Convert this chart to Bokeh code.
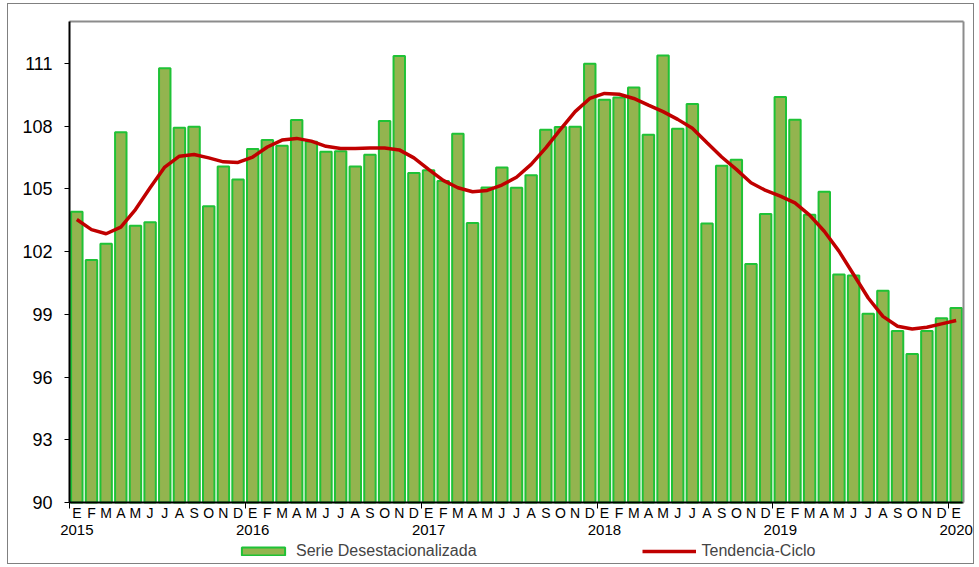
from bokeh.plotting import figure
from bokeh.models import Range1d, LinearAxis, FixedTicker, Legend, LegendItem, ColumnDataSource
from bokeh.embed import file_html
from bokeh.resources import INLINE

month_labels = ["E", "F", "M", "A", "M", "J", "J", "A", "S", "O", "N", "D"] * 5 + ["E"]
year_labels = ["2015", "2016", "2017", "2018", "2019", "2020"]
year_start_idx = [0, 12, 24, 36, 48, 60]
year_bounds = [-0.5, 11.5, 23.5, 35.5, 47.5, 59.5]
y_ticks = [90, 93, 96, 99, 102, 105, 108, 111]
y_min, y_max = 90, 113

serie = [103.90, 101.60, 102.37, 107.70, 103.23, 103.40, 110.76, 107.92, 107.97, 104.17, 106.07, 105.45,
         106.90, 107.33, 107.06, 108.29, 107.25, 106.77, 106.79, 106.07, 106.63, 108.24, 111.35, 105.75,
         105.89, 105.37, 107.63, 103.37, 105.06, 106.02, 105.05, 105.65, 107.82, 107.95, 107.97, 110.98,
         109.26, 109.37, 109.85, 107.59, 111.37, 107.87, 109.05, 103.34, 106.10, 106.39, 101.41, 103.79,
         109.39, 108.30, 103.76, 104.86, 100.90, 100.85, 99.02, 100.12, 98.20, 97.10, 98.20, 98.81,
         99.30]

tendencia = [103.53, 103.05, 102.85, 103.17, 104.01, 105.05, 106.04, 106.56, 106.64, 106.48, 106.29, 106.26,
             106.52, 107.00, 107.33, 107.41, 107.28, 107.03, 106.93, 106.93, 106.95, 106.95, 106.86, 106.48,
             105.93, 105.40, 105.05, 104.86, 104.92, 105.18, 105.55, 106.17, 106.96, 107.84, 108.69, 109.32,
             109.56, 109.52, 109.32, 109.00, 108.69, 108.32, 107.89, 107.20, 106.52, 105.93, 105.29, 104.92,
             104.65, 104.33, 103.74, 102.97, 102.02, 100.90, 99.78, 98.90, 98.43, 98.30, 98.38, 98.54,
             98.70]

idx = list(range(len(serie)))
src = ColumnDataSource(dict(x=idx, serie=serie, tend=tendencia))
x_lo, x_hi = -0.5, len(serie) - 0.5

# layout: the frame fills the whole canvas; the plot area occupies pixels
# 61..955 horizontally and 17..498 vertically of a 967x561 canvas
W, H = 967, 561
PA_L, PA_R, PA_T, PA_B = 61, 955, 17, 498
sx = (PA_R - PA_L) / (x_hi - x_lo)
sy = (PA_B - PA_T) / (y_max - y_min)
xr = Range1d(x_lo - PA_L / sx, x_hi + (W - PA_R) / sx)
yr = Range1d(y_min - (H - PA_B) / sy, y_max + PA_T / sy)

FONT = "Liberation Sans"

p = figure(width=W, height=H, x_range=xr, y_range=yr,
           x_axis_type=None, y_axis_type=None,
           output_backend="svg", toolbar_location=None,
           min_border_left=0, min_border_right=0, min_border_top=0, min_border_bottom=0)
p.grid.visible = False
p.outline_line_color = None
p.background_fill_color = "white"
p.border_fill_color = "white"
p.styles = {"border": "1px solid #808080", "margin-left": "7px", "margin-top": "3px"}

# y axis
yaxis = LinearAxis(ticker=FixedTicker(ticks=y_ticks), bounds=(y_min, y_max), fixed_location=x_lo)
yaxis.axis_line_color = "black"
yaxis.axis_line_width = 2
yaxis.major_tick_out = 5
yaxis.major_tick_in = 0
yaxis.minor_tick_out = 0
yaxis.minor_tick_in = 0
yaxis.major_label_text_font = FONT
yaxis.major_label_text_font_size = "18px"
yaxis.major_label_text_color = "black"
yaxis.major_label_standoff = 12
p.add_layout(yaxis, "left")

# plot-area border (top and right), gray
top_border = LinearAxis(ticker=FixedTicker(ticks=[]), fixed_location=y_max, bounds=(x_lo, x_hi))
top_border.axis_line_color = "#8c8c8c"
top_border.axis_line_width = 2
top_border.major_tick_line_color = None
top_border.minor_tick_line_color = None
top_border.major_label_text_font_size = "0px"
p.add_layout(top_border, "above")

right_border = LinearAxis(ticker=FixedTicker(ticks=[]), fixed_location=x_hi, bounds=(y_min, y_max))
right_border.axis_line_color = "#8c8c8c"
right_border.axis_line_width = 2
right_border.major_tick_line_color = None
right_border.minor_tick_line_color = None
right_border.major_label_text_font_size = "0px"
p.add_layout(right_border, "right")

# month axis
xaxis = LinearAxis(ticker=FixedTicker(ticks=idx, minor_ticks=year_bounds),
                   fixed_location=y_min, bounds=(x_lo, x_hi))
xaxis.major_label_overrides = {i: month_labels[i] for i in idx}
xaxis.axis_line_color = "black"
xaxis.axis_line_width = 2
xaxis.major_tick_out = 0
xaxis.major_tick_in = 0
xaxis.major_tick_line_color = None
xaxis.minor_tick_out = 6
xaxis.minor_tick_in = 0
xaxis.minor_tick_line_color = "black"
xaxis.minor_tick_line_width = 1
xaxis.major_label_text_font = FONT
xaxis.major_label_text_font_size = "14px"
xaxis.major_label_text_color = "black"
xaxis.major_label_standoff = -4
p.add_layout(xaxis, "below")

# year axis
yraxis = LinearAxis(ticker=FixedTicker(ticks=year_start_idx), fixed_location=y_min)
yraxis.major_label_overrides = {year_start_idx[i]: year_labels[i] for i in range(len(year_labels))}
yraxis.axis_line_color = None
yraxis.major_tick_line_color = None
yraxis.minor_tick_line_color = None
yraxis.major_tick_out = 0
yraxis.major_tick_in = 0
yraxis.minor_tick_out = 0
yraxis.major_label_text_font = FONT
yraxis.major_label_text_font_size = "15px"
yraxis.major_label_text_color = "black"
yraxis.major_label_standoff = 22
p.add_layout(yraxis, "below")

bars = p.vbar(x="x", top="serie", bottom=y_min, width=0.78, source=src,
              fill_color="#93B44F", line_color="#1FC236", line_width=2)
line = p.line(x="x", y="tend", source=src, line_color="#C00000", line_width=3.5)

legend = Legend(items=[LegendItem(label="Serie Desestacionalizada", renderers=[bars]),
                       LegendItem(label="Tendencia-Ciclo", renderers=[line])],
                orientation="horizontal", location=(228, 5),
                glyph_width=54, glyph_height=10, label_standoff=6, spacing=165,
                padding=0, margin=0, border_line_color=None, background_fill_alpha=0,
                label_text_font=FONT, label_text_font_size="16px", label_height=16)
p.add_layout(legend, "center")

open("out.html", "w").write(file_html(p, INLINE))
